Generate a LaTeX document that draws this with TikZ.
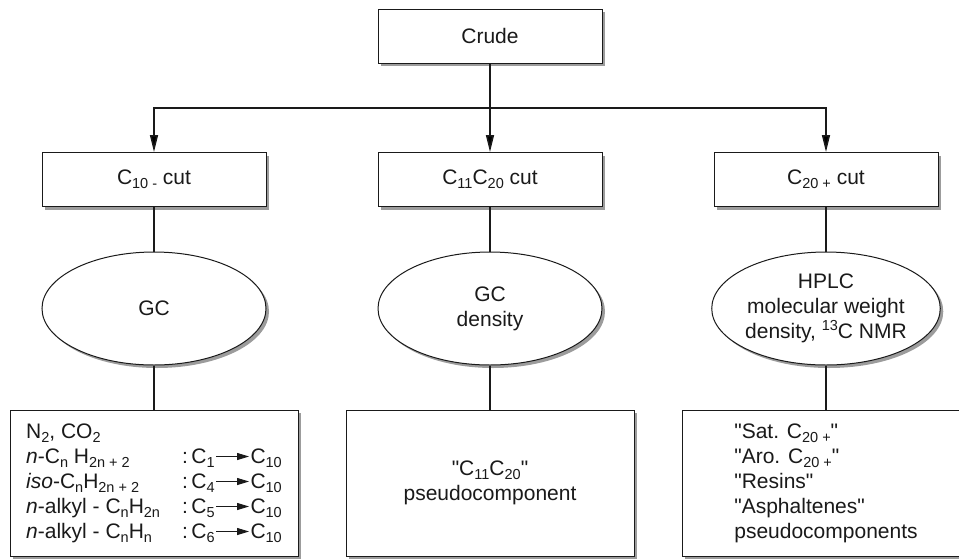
\documentclass[tikz,border=0pt]{standalone}
\usepackage{fontspec}
\setmainfont{Liberation Sans}
\usetikzlibrary{shapes.geometric,shadows,arrows.meta}
\definecolor{ink}{HTML}{1A1A1A}
\definecolor{shade}{HTML}{9C9C9C}
\newcommand\yieldsarrow{\kern1pt\tikz[baseline=-6.5pt]\draw[line width=0.9pt,draw=ink,fill=ink,-{Triangle[length=12pt,width=7pt]}] (0pt,0pt) -- (33pt,0pt);\kern1pt}
\newcommand\sq{{\XeTeXglyph\XeTeXcharglyph"22\relax}}
\newcommand\lowtxt[1]{\raisebox{-4pt}{\fontsize{14.5}{15}\selectfont #1}}
\newcommand\hightxt[1]{\raisebox{8pt}{\fontsize{14.5}{15}\selectfont #1}}
\tikzset{
  shadowed/.style={drop shadow={shadow xshift=3pt,shadow yshift=-3pt,fill=shade,opacity=1}},
  box/.style={draw=ink,line width=1pt,fill=white,shadowed,minimum width=224pt,minimum height=54pt,inner sep=0pt,text=ink,font=\fontsize{21}{25}\selectfont},
  oval/.style={ellipse,draw=ink,line width=1pt,fill=white,shadowed,minimum width=224pt,minimum height=113pt,inner sep=0pt,align=center,text=ink,font=\fontsize{21}{25}\selectfont},
  bigbox/.style={draw=ink,line width=1pt,fill=white,shadowed,minimum width=288pt,minimum height=146pt,inner sep=0pt,text=ink,font=\fontsize{21}{25}\selectfont},
  conn/.style={draw=ink,line width=1.6pt},
  arr/.style={conn,-{Triangle[length=17pt,width=8pt]}},
}
\begin{document}
\begin{tikzpicture}[x=1pt,y=-1pt]
\path[use as bounding box,clip] (0,0) rectangle (959,558);
% top
\node[box] (crude) at (490,36) {Crude};
% cuts
\node[box] (cutA) at (154,179.5) {C\lowtxt{10 -} cut};
\node[box] (cutB) at (490,179.5) {C\lowtxt{11}C\lowtxt{20} cut};
\node[box] (cutC) at (826,179.5) {C\lowtxt{20 +} cut};
% methods
\node[oval] (mA) at (154,308.5) {GC};
\node[oval] (mB) at (490,308.5) {GC\\density};
\node[oval] (mC) at (826,308.5) {HPLC\\molecular weight\\density, \hightxt{13}C NMR};
% results
\node[bigbox] (rA) at (154,483) {\begin{tabular}{@{}l@{\hspace{22pt}}l@{}}
N\lowtxt{2}, CO\lowtxt{2} & \\
\textit{n}-C\lowtxt{n} H\lowtxt{2n + 2} & :\,C\lowtxt{1}\yieldsarrow C\lowtxt{10}\\
\textit{iso}-C\lowtxt{n}H\lowtxt{2n + 2} & :\,C\lowtxt{4}\yieldsarrow C\lowtxt{10}\\
\textit{n}-alkyl - C\lowtxt{n}H\lowtxt{2n} & :\,C\lowtxt{5}\yieldsarrow C\lowtxt{10}\\
\textit{n}-alkyl - C\lowtxt{n}H\lowtxt{n} & :\,C\lowtxt{6}\yieldsarrow C\lowtxt{10}
\end{tabular}};
\node[bigbox,align=center] (rB) at (490,483) {\sq C\lowtxt{11}C\lowtxt{20}\sq\\pseudocomponent};
\node[bigbox,align=left] (rC) at (826,483) {\sq Sat. C\lowtxt{20 +}\sq\\\sq Aro. C\lowtxt{20 +}\sq\\\sq Resins\sq\\\sq Asphaltenes\sq\\pseudocomponents};
% junctions
\coordinate (jM) at (490,108);
\draw[conn] (crude.south) -- (jM);
\draw[arr] (jM) -| (cutA.north);
\draw[arr] (jM) -- (cutB.north);
\draw[arr] (jM) -| (cutC.north);
\draw[conn] (cutA.south) -- (mA.north);
\draw[conn] (cutB.south) -- (mB.north);
\draw[conn] (cutC.south) -- (mC.north);
\draw[conn] (mA.south) -- (rA.north);
\draw[conn] (mB.south) -- (rB.north);
\draw[conn] (mC.south) -- (rC.north);
\end{tikzpicture}
\end{document}
